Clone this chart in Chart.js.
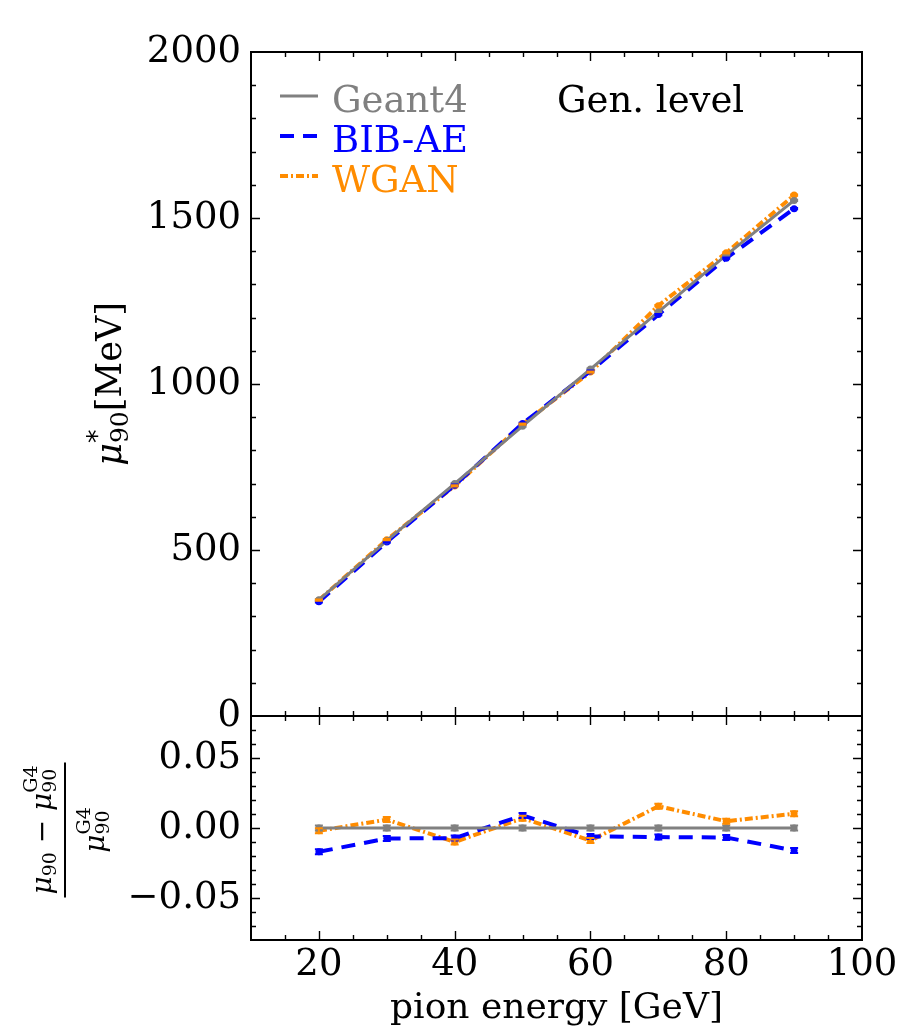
<!DOCTYPE html>
<html><head><meta charset="utf-8">
<script src="https://cdn.jsdelivr.net/npm/chart.js@4.4.1/dist/chart.umd.min.js"></script>
<style>
html,body{margin:0;padding:0;background:#fff;}
#wrap{position:relative;width:903px;height:1028px;background:#fff;}
canvas{position:absolute;left:0;top:0;width:903px;height:1028px;}
</style></head><body>
<div id="wrap"><canvas id="topc" width="903" height="1028"></canvas><canvas id="botc" width="903" height="1028"></canvas></div>
<script>
// ---------------- data ----------------
const ENERGY = [20, 30, 40, 50, 60, 70, 80, 90];               // pion energy [GeV]
const G4_MU    = [350, 528, 700, 873, 1045, 1217, 1388, 1553];  // Geant4 mu90 [MeV]
const BIBAE_MU = [344, 524, 695, 881, 1039, 1209, 1379, 1528];  // BIB-AE mu90 [MeV]
const WGAN_MU  = [349, 531, 693, 879, 1036, 1236, 1395, 1569];  // WGAN mu90 [MeV]
const G4_MU_ERR    = [2, 2, 2, 2, 2, 2, 2, 2];
const BIBAE_MU_ERR = [2, 2, 2, 2, 2, 2, 2, 2];
const WGAN_MU_ERR  = [2, 2, 2, 2, 2, 2, 2, 2];
const G4_RATIO    = [0, 0, 0, 0, 0, 0, 0, 0];
const BIBAE_RATIO = [-0.017, -0.0075, -0.0072, 0.009, -0.006, -0.0065, -0.0068, -0.016];
const WGAN_RATIO  = [-0.002, 0.006, -0.010, 0.007, -0.009, 0.0155, 0.0048, 0.0102];
const G4_RATIO_ERR    = [0.0018, 0.0018, 0.0018, 0.0018, 0.0018, 0.0018, 0.0018, 0.0018];
const BIBAE_RATIO_ERR = [0.0018, 0.0018, 0.0018, 0.0018, 0.0018, 0.0018, 0.0018, 0.0018];
const WGAN_RATIO_ERR  = [0.0018, 0.0018, 0.0018, 0.0018, 0.0018, 0.0018, 0.0018, 0.0018];
const SERIES_NAMES = ['Geant4', 'BIB-AE', 'WGAN'];
const X_TICKS = [20, 40, 60, 80, 100];
const Y_TICKS_TOP = [0, 500, 1000, 1500, 2000];
const Y_TICKS_RATIO = [-0.05, 0, 0.05];
const X_RANGE = [10, 100], Y_RANGE_TOP = [0, 2000], Y_RANGE_RATIO = [-0.08, 0.08];
const X_MINOR = 5, Y_MINOR_TOP = 100, Y_MINOR_RATIO = 0.01;

// ---------------- styles ----------------
const COLORS = ['#808080', '#0000ff', '#ff8c00'];
const DASHES = [[], [14, 9], [8, 3, 2, 3]];
const WIDTHS = [3, 4, 4];
const SERIF = '"DejaVu Serif", "Liberation Serif", serif';
const TICK_FONT = {family: SERIF, size: 37};

function pts(ys) { return ENERGY.map((e, i) => ({x: e, y: ys[i]})); }
function mkDatasets(lists) {
  return lists.map((ys, k) => ({
    label: SERIES_NAMES[k], data: pts(ys), borderColor: COLORS[k], backgroundColor: COLORS[k],
    borderDash: DASHES[k], borderWidth: WIDTHS[k], pointRadius: 3.5, pointBorderWidth: 0,
    pointBackgroundColor: COLORS[k], tension: 0, fill: false
  }));
}
function range(a, b, s) { const out = []; const n = Math.round((b - a) / s); for (let i = 0; i <= n; i++) out.push(+(a + i * s).toFixed(6)); return out; }
function isMajor(v, majors) { return majors.some(m => Math.abs(m - v) < 1e-9); }

function frameTicksPlugin(xMaj, xMin, yMaj, yMin) {
  return {
    id: 'frameTicks',
    afterDraw(chart) {
      const {ctx, chartArea: a, scales: {x, y}} = chart;
      ctx.save();
      ctx.strokeStyle = '#000'; ctx.lineWidth = 1.4; ctx.setLineDash([]);
      ctx.beginPath();
      for (const v of xMin) {
        const px = Math.round(x.getPixelForValue(v)) + 0.5;
        if (px < a.left + 1 || px > a.right - 1) continue;
        const L = isMajor(v, xMaj) ? 9 : 5;
        ctx.moveTo(px, a.bottom); ctx.lineTo(px, a.bottom - L);
        ctx.moveTo(px, a.top); ctx.lineTo(px, a.top + L);
      }
      for (const v of yMin) {
        const py = Math.round(y.getPixelForValue(v)) + 0.5;
        if (py < a.top + 1 || py > a.bottom - 1) continue;
        const L = isMajor(v, yMaj) ? 9 : 5;
        ctx.moveTo(a.left, py); ctx.lineTo(a.left + L, py);
        ctx.moveTo(a.right, py); ctx.lineTo(a.right - L, py);
      }
      ctx.stroke();
      ctx.lineWidth = 2;
      ctx.strokeRect(a.left, a.top, a.right - a.left, a.bottom - a.top);
      ctx.restore();
    }
  };
}
function errorBarPlugin(errs) {
  return {
    id: 'errBars',
    afterDatasetsDraw(chart) {
      const {ctx, scales: {x, y}} = chart;
      ctx.save(); ctx.setLineDash([]);
      chart.data.datasets.forEach((ds, k) => {
        ctx.strokeStyle = COLORS[k]; ctx.lineWidth = 2;
        ds.data.forEach((p, i) => {
          const px = x.getPixelForValue(p.x);
          const y1 = y.getPixelForValue(p.y - errs[k][i]), y2 = y.getPixelForValue(p.y + errs[k][i]);
          ctx.beginPath();
          ctx.moveTo(px, y1); ctx.lineTo(px, y2);
          ctx.moveTo(px - 4, y1); ctx.lineTo(px + 4, y1);
          ctx.moveTo(px - 4, y2); ctx.lineTo(px + 4, y2);
          ctx.stroke();
        });
      });
      ctx.restore();
    }
  };
}
function drawMath(ctx, cx, cy, items, rotate) {
  ctx.save();
  ctx.translate(cx, cy);
  if (rotate) ctx.rotate(-Math.PI / 2);
  ctx.textBaseline = 'alphabetic'; ctx.textAlign = 'left';
  const w = it => {
    if (it.stack) return Math.max(...it.stack.map(s => { ctx.font = s.f; return ctx.measureText(s.t).width; }));
    ctx.font = it.f; return ctx.measureText(it.t).width;
  };
  const total = items.reduce((s, it) => s + w(it), 0);
  let xx = -total / 2;
  for (const it of items) {
    for (const p of (it.stack || [it])) { ctx.font = p.f; ctx.fillStyle = '#000'; ctx.fillText(p.t, xx, p.dy || 0); }
    xx += w(it);
  }
  ctx.restore();
  return total;
}

const topExtras = {
  id: 'topExtras',
  afterDraw(chart) {
    const {ctx, chartArea: a} = chart;
    ctx.save();
    // legend
    const rows = [112, 152, 192];
    chart.data.datasets.forEach((ds, k) => {
      const yb = rows[k];
      ctx.strokeStyle = COLORS[k]; ctx.lineWidth = WIDTHS[k]; ctx.setLineDash(DASHES[k]);
      ctx.beginPath(); ctx.moveTo(a.left + 29, yb - 16); ctx.lineTo(a.left + 67, yb - 16); ctx.stroke();
      ctx.setLineDash([]);
      ctx.fillStyle = COLORS[k]; ctx.font = '37px ' + SERIF; ctx.textBaseline = 'alphabetic'; ctx.textAlign = 'left';
      ctx.fillText(ds.label, a.left + 81, yb);
    });
    ctx.fillStyle = '#000'; ctx.font = '37px ' + SERIF;
    ctx.fillText('Gen. level', 557, 112);
    // y title
    drawMath(ctx, 121, 384, [
      {t: 'μ', f: 'italic 35px ' + SERIF},
      {stack: [{t: '*', f: '27px "DejaVu Sans"', dy: -15}, {t: '90', f: '25px ' + SERIF, dy: 7}]},
      {t: '[MeV]', f: '35px ' + SERIF}
    ], true);
    ctx.restore();
  }
};
const botExtras = {
  id: 'botExtras',
  afterDraw(chart) {
    const {ctx, chartArea: a} = chart;
    ctx.save();
    ctx.fillStyle = '#000'; ctx.font = '36px ' + SERIF; ctx.textAlign = 'center'; ctx.textBaseline = 'alphabetic';
    ctx.fillText('pion energy [GeV]', (a.left + a.right) / 2, 1018);
    const mf = 'italic 28px ' + SERIF, sf = '19px ' + SERIF;
    const num = drawMath(ctx, 51, 830, [
      {t: 'μ', f: mf}, {stack: [{t: '90', f: sf, dy: 5}]},
      {t: ' − ', f: '28px ' + SERIF},
      {t: 'μ', f: mf}, {stack: [{t: '90', f: sf, dy: 5}, {t: 'G4', f: sf, dy: -14}]}
    ], true);
    drawMath(ctx, 104, 830, [
      {t: 'μ', f: mf}, {stack: [{t: '90', f: sf, dy: 5}, {t: 'G4', f: sf, dy: -14}]}
    ], true);
    ctx.strokeStyle = '#000'; ctx.lineWidth = 2; ctx.setLineDash([]);
    ctx.beginPath(); ctx.moveTo(65, 830 - num / 2 - 3); ctx.lineTo(65, 830 + num / 2 + 3); ctx.stroke();
    ctx.restore();
  }
};

const common = {
  options: {
    responsive: false, animation: false, devicePixelRatio: 1,
    plugins: {legend: {display: false}, tooltip: {enabled: false}, title: {display: false}},
    events: []
  }
};

new Chart(document.getElementById('topc'), {
  type: 'line',
  data: {datasets: mkDatasets([G4_MU, BIBAE_MU, WGAN_MU])},
  options: Object.assign({}, common.options, {
    layout: {padding: {top: 52, bottom: 1028 - 716, left: 0, right: 903 - 862}},
    scales: {
      x: {type: 'linear', display: false, min: X_RANGE[0], max: X_RANGE[1]},
      y: {type: 'linear', min: Y_RANGE_TOP[0], max: Y_RANGE_TOP[1],
          afterFit: s => { s.width = 251; },
          afterBuildTicks: s => { s.ticks = Y_TICKS_TOP.map(v => ({value: v})); },
          grid: {display: false, drawTicks: false}, border: {display: false},
          ticks: {font: TICK_FONT, color: '#000', padding: 10, callback: v => String(v)}}
    }
  }),
  plugins: [errorBarPlugin([G4_MU_ERR, BIBAE_MU_ERR, WGAN_MU_ERR]),
            frameTicksPlugin(X_TICKS, range(X_RANGE[0], X_RANGE[1], X_MINOR), Y_TICKS_TOP, range(Y_RANGE_TOP[0], Y_RANGE_TOP[1], Y_MINOR_TOP)),
            topExtras]
});

new Chart(document.getElementById('botc'), {
  type: 'line',
  data: {datasets: mkDatasets([G4_RATIO, BIBAE_RATIO, WGAN_RATIO])},
  options: Object.assign({}, common.options, {
    layout: {padding: {top: 716, bottom: 0, left: 0, right: 903 - 862}},
    scales: {
      x: {type: 'linear', min: X_RANGE[0], max: X_RANGE[1],
          afterFit: s => { s.height = 1028 - 940; },
          afterBuildTicks: s => { s.ticks = X_TICKS.map(v => ({value: v})); },
          grid: {display: false, drawTicks: false}, border: {display: false},
          ticks: {font: TICK_FONT, color: '#000', padding: 3, maxRotation: 0, autoSkip: false, callback: v => String(v)}},
      y: {type: 'linear', min: Y_RANGE_RATIO[0], max: Y_RANGE_RATIO[1],
          afterFit: s => { s.width = 251; },
          afterBuildTicks: s => { s.ticks = Y_TICKS_RATIO.map(v => ({value: v})); },
          grid: {display: false, drawTicks: false}, border: {display: false},
          ticks: {font: TICK_FONT, color: '#000', padding: 10,
                  callback: v => (v < -1e-9 ? '\u2212' : '') + Math.abs(v).toFixed(2)}}
    }
  }),
  plugins: [errorBarPlugin([G4_RATIO_ERR, BIBAE_RATIO_ERR, WGAN_RATIO_ERR]),
            frameTicksPlugin(X_TICKS, range(X_RANGE[0], X_RANGE[1], X_MINOR), Y_TICKS_RATIO, range(Y_RANGE_RATIO[0], Y_RANGE_RATIO[1], Y_MINOR_RATIO)),
            botExtras]
});
</script>
</body></html>
